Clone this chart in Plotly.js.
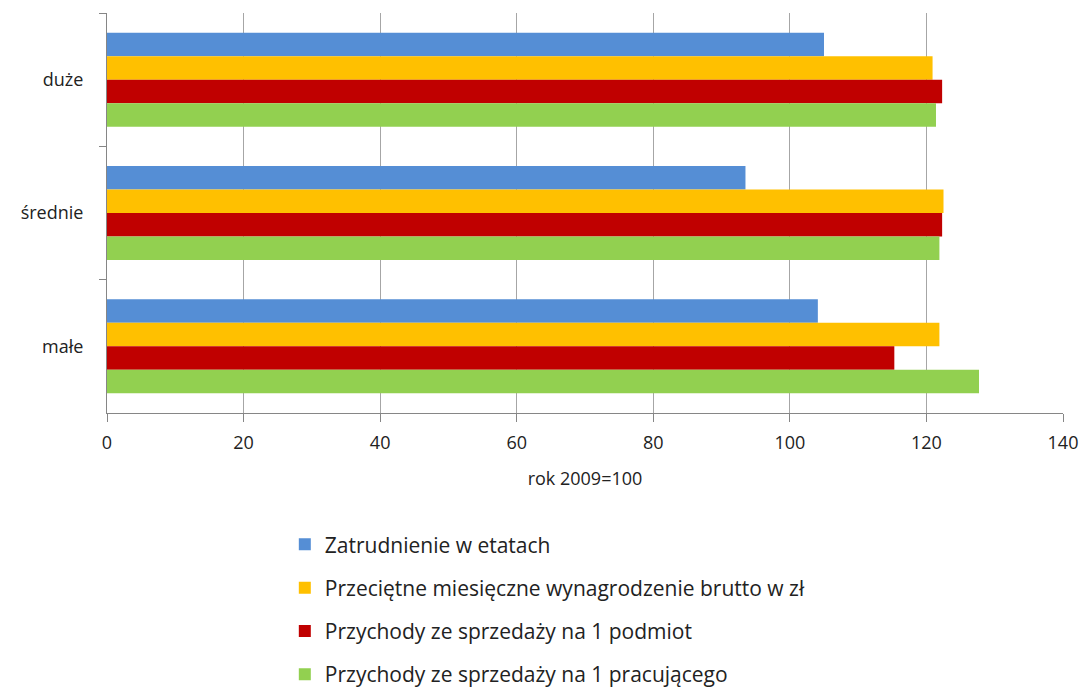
<!DOCTYPE html>
<html>
<head>
<meta charset="utf-8">
<script src="https://cdn.plot.ly/plotly-3.0.1.min.js"></script>
<style>html,body{margin:0;padding:0;background:#fff;}#chart{width:1081px;height:694px;}</style>
</head>
<body>
<div id="chart"></div>
<script>
const categories = ["duże", "średnie", "małe"];
const seriesNames = [
  "Zatrudnienie w etatach",
  "Przeciętne miesięczne wynagrodzenie brutto w zł",
  "Przychody ze sprzedaży na 1 podmiot",
  "Przychody ze sprzedaży na 1 pracującego"
];
const zatrudnienie = [105.0, 93.5, 104.1];
const wynagrodzenie = [120.9, 122.5, 121.9];
const przychodyPodmiot = [122.3, 122.3, 115.3];
const przychodyPracujacy = [121.4, 121.9, 127.7];
const seriesValues = [zatrudnienie, wynagrodzenie, przychodyPodmiot, przychodyPracujacy];
const colors = ["#558ED5", "#FFC000", "#C00000", "#92D050"];
const xTicks = [0, 20, 40, 60, 80, 100, 120, 140];

const FONT = "Open Sans, Liberation Sans, sans-serif";

const traces = seriesValues.map((vals, i) => ({
  type: "bar",
  orientation: "h",
  name: seriesNames[i],
  y: categories,
  x: vals,
  marker: {color: colors[i], line: {width: 0}},
  legendgroup: "g" + i,
  hoverinfo: "x+name"
}));

const layout = {
  width: 1081,
  height: 694,
  margin: {l: 107, r: 18, t: 13, b: 281, autoexpand: false},
  paper_bgcolor: "#fff",
  plot_bgcolor: "#fff",
  font: {family: FONT, size: 18, color: "#222"},
  barmode: "group",
  bargap: 0.295,
  bargroupgap: 0,
  showlegend: true,
  legend: {
    x: 0.186, xanchor: "left",
    y: -0.278, yanchor: "top",
    orientation: "v",
    tracegroupgap: 13,
    font: {family: FONT, size: 21, color: "#222"},
    itemwidth: 30,
    bgcolor: "rgba(0,0,0,0)"
  },
  xaxis: {
    range: [0, 140],
    tickvals: xTicks,
    ticktext: xTicks.map(String),
    showgrid: true,
    gridcolor: "#a6a6a6",
    gridwidth: 1,
    zeroline: false,
    showline: true,
    linecolor: "#868686",
    linewidth: 1,
    ticks: "outside",
    ticklen: 8,
    tickcolor: "#868686",
    ticklabelstandoff: 5,
    tickfont: {family: FONT, size: 18, color: "#222"},
    title: {text: "rok 2009=100", font: {family: FONT, size: 18, color: "#222"}, standoff: 19},
    fixedrange: true
  },
  yaxis: {
    type: "category",
    categoryorder: "array",
    categoryarray: categories,
    autorange: "reversed",
    showgrid: false,
    zeroline: false,
    showline: true,
    linecolor: "#868686",
    linewidth: 1,
    ticks: "outside",
    tickson: "boundaries",
    ticklen: 7,
    tickcolor: "#868686",
    ticklabelstandoff: 19,
    tickfont: {family: FONT, size: 18, color: "#222"},
    fixedrange: true
  }
};

Plotly.newPlot("chart", traces, layout, {displayModeBar: false, staticPlot: true});
</script>
</body>
</html>
